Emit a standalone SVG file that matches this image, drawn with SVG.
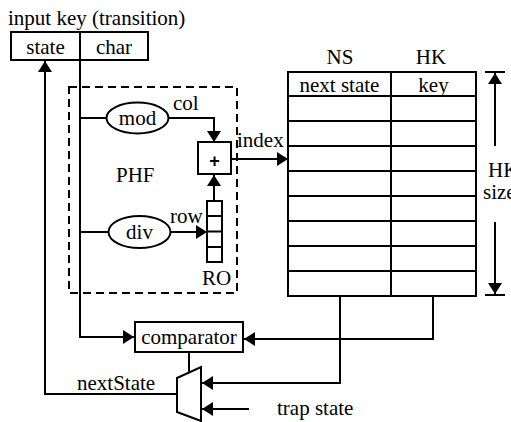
<svg xmlns="http://www.w3.org/2000/svg" width="511" height="422" viewBox="0 0 511 422">
<defs>
<style>
text{font-family:"Liberation Serif","Times New Roman",serif;font-size:21px;fill:#000}
.m{text-anchor:middle}
.s{fill:none;stroke:#000;stroke-width:2}
.b{fill:#fff;stroke:#000;stroke-width:2}
</style>
<marker id="ar" markerUnits="userSpaceOnUse" markerWidth="12" markerHeight="14" refX="11" refY="7" orient="auto">
<path d="M0,0 L11,7 L0,14 Z" fill="#000"/>
</marker>
</defs>
<rect width="511" height="422" fill="#fff"/>

<text x="8" y="25">input key (transition)</text>

<g id="inputkey">
<rect class="b" x="11" y="32" width="137" height="28"/>
<line class="s" x1="80" y1="32" x2="80" y2="60"/>
<text class="m" x="45.5" y="54">state</text>
<text class="m" x="114" y="54">char</text>
</g>

<g id="phf">
<rect x="69" y="87" width="168" height="206" fill="none" stroke="#000" stroke-width="2" stroke-dasharray="8,5"/>
<text x="116" y="182">PHF</text>
</g>

<g id="connectors">
<path class="s" d="M80,60 V337 H134" marker-end="url(#ar)"/>
<path class="s" d="M80,118 H107"/>
<path class="s" d="M168,118 H214 V142" marker-end="url(#ar)"/>
<path class="s" d="M80,232 H108"/>
<path class="s" d="M171,232 H207" marker-end="url(#ar)"/>
<path class="s" d="M214,201 V175" marker-end="url(#ar)"/>
<path class="s" d="M231,159 H288" marker-end="url(#ar)"/>
<path class="s" d="M340,296 V383 H202" marker-end="url(#ar)"/>
<path class="s" d="M433,296 V339 H244" marker-end="url(#ar)"/>
<path class="s" d="M189,352 V373"/>
<path class="s" d="M249,409 H202" marker-end="url(#ar)"/>
<path class="s" d="M177,394 H45 V61" marker-end="url(#ar)"/>
<path class="s" d="M495,146 V73" marker-end="url(#ar)"/>
<path class="s" d="M495,222 V294" marker-end="url(#ar)"/>
<path class="s" d="M485,72 H505 M485,295 H505"/>
</g>

<g id="mod">
<ellipse class="b" cx="137.5" cy="118" rx="31" ry="15.5"/>
<text class="m" x="137.5" y="125">mod</text>
</g>
<text x="173" y="110">col</text>

<g id="div">
<ellipse class="b" cx="139.5" cy="232" rx="31" ry="16"/>
<text class="m" x="139.5" y="239">div</text>
</g>
<text x="170" y="223">row</text>

<g id="plus">
<rect class="b" x="198" y="142" width="33" height="32"/>
<text class="m" x="214.5" y="167" style="font-family:'Liberation Sans',Arial,sans-serif;font-weight:bold;font-size:18px">+</text>
</g>

<g id="ro">
<rect class="b" x="207" y="201" width="15" height="61"/>
<path class="s" d="M207,216 H222 M207,231.5 H222 M207,247 H222"/>
<text x="202" y="285">RO</text>
</g>

<text x="237" y="147">index</text>

<g id="table">
<rect class="b" x="288" y="72" width="188" height="224"/>
<line class="s" x1="391" y1="72" x2="391" y2="296"/>
<path class="s" d="M288,96 H476 M288,121 H476 M288,146 H476 M288,171 H476 M288,196 H476 M288,221 H476 M288,246 H476 M288,271 H476"/>
<text class="m" x="339.5" y="92">next state</text>
<text class="m" x="433.5" y="92">key</text>
<text class="m" x="340" y="64">NS</text>
<text class="m" x="431" y="64">HK</text>
</g>

<text x="488" y="177">HK</text>
<text x="483" y="199">size</text>

<g id="comparator">
<rect class="b" x="135" y="322" width="108" height="30"/>
<text class="m" x="189" y="344">comparator</text>
</g>

<g id="mux">
<polygon class="b" points="177,378 201,367 201,421 177,412"/>
</g>

<text x="77" y="390">nextState</text>
<text x="277" y="415">trap state</text>
</svg>
